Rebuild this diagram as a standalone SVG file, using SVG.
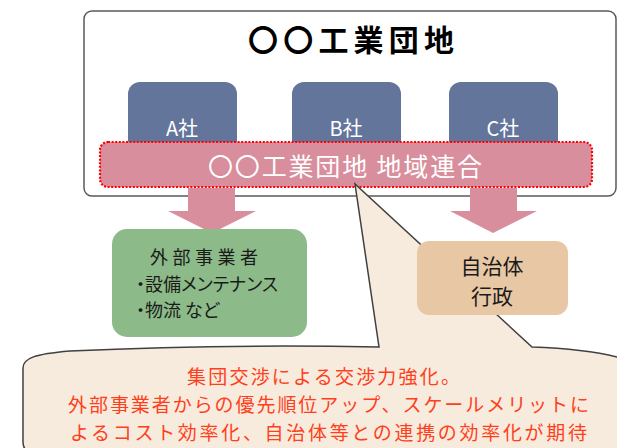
<svg xmlns="http://www.w3.org/2000/svg" width="617" height="448" viewBox="0 0 617 448">
<style>
text{font-family:"Noto Sans CJK JP","Noto Sans",sans-serif;}
.co{fill:#63759B;}
.cot{fill:#fff;font-size:20px;text-anchor:middle;}
.arrow{fill:#D88E9C;}
.gt{fill:#1a1a1a;font-size:18px;}
.pt{font-feature-settings:"palt";}
.ot{fill:#1a1a1a;font-size:21px;text-anchor:middle;}
.ct{fill:#FF3F1C;font-size:19px;}
</style>
<rect width="617" height="448" fill="#fff"/>
<g id="park">
<rect x="84" y="11" width="532" height="185" rx="8" fill="#fff" stroke="#5a5a5a" stroke-width="1.5"/>
<text x="248" y="51" font-size="30" font-weight="700" fill="#000" textLength="206" lengthAdjust="spacing">〇〇工業団地</text>
</g>
<g id="companyA"><rect class="co" x="128" y="82" width="109" height="80" rx="12"/><text class="cot" x="182" y="136">A社</text></g>
<g id="companyB"><rect class="co" x="292" y="82" width="109" height="80" rx="12"/><text class="cot" x="346" y="136">B社</text></g>
<g id="companyC"><rect class="co" x="449" y="82" width="109" height="80" rx="12"/><text class="cot" x="503" y="136">C社</text></g>
<g id="union">
<rect x="100" y="142" width="492" height="45" rx="8" fill="#D88E9C" stroke="#FF0000" stroke-width="2.2" stroke-dasharray="2 1.6"/>
<text x="208" y="176" font-size="25" fill="#fff" textLength="274" lengthAdjust="spacing">〇〇工業団地 地域連合</text>
</g>
<g id="connectors">
<polygon class="arrow" points="188,188 235,188 235,211 256,211 212,233 168,211 188,211"/>
<polygon class="arrow" points="470,188 517,188 517,211 537,211 493,233 450,211 470,211"/>
</g>
<g id="callout">
<path d="M 23,442 L 23,368 C 23,358 35,354 70,351 Q 220,344 379,347 L 355,184 L 532,347 Q 585,349 617,357 L 630,358 L 630,470 L 40,470 L 33,452 Q 23,452 23,442 Z" fill="#F7EBDD" stroke="#404040" stroke-width="1.5" stroke-linejoin="miter"/>
<text class="ct" x="187" y="384" textLength="273" lengthAdjust="spacing">集団交渉による交渉力強化。</text>
<text class="ct" x="68" y="412" textLength="521" lengthAdjust="spacing">外部事業者からの優先順位アップ、スケールメリットに</text>
<text class="ct" x="70" y="440" textLength="517" lengthAdjust="spacing">よるコスト効率化、自治体等との連携の効率化が期待</text>
</g>
<g id="external">
<rect x="112" y="229" width="195" height="108" rx="15" fill="#8CBA88"/>
<text class="gt" x="150" y="264" textLength="108" lengthAdjust="spacing">外部事業者</text>
<text class="gt pt" x="136" y="290.5">・設備メンテナンス</text>
<text class="gt pt" x="136" y="317">・物流 など</text>
</g>
<g id="municipality">
<rect x="417" y="241" width="151" height="74" rx="12" fill="#E8C7A5"/>
<text class="ot" x="492" y="274">自治体</text>
<text class="ot" x="492" y="304">行政</text>
</g>
</svg>
